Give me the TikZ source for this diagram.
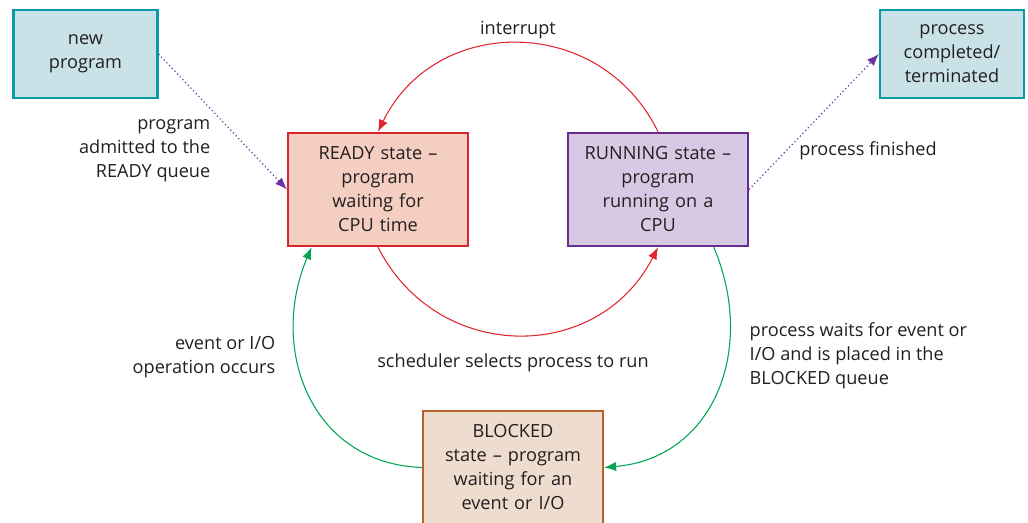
\documentclass[tikz,border=0pt]{standalone}
\usepackage{fontspec}
\setmainfont{Open Sans}
\usetikzlibrary{arrows.meta,positioning}

\definecolor{boxteal}{HTML}{0A9AAA}
\definecolor{fillteal}{HTML}{C9E2E7}
\definecolor{readyred}{HTML}{D9232D}
\definecolor{readyfill}{HTML}{F4CEC0}
\definecolor{runpurple}{HTML}{6B2C91}
\definecolor{runfill}{HTML}{D7C9E3}
\definecolor{blockbrown}{HTML}{B7612C}
\definecolor{blockfill}{HTML}{EEDCCE}
\definecolor{arcred}{HTML}{E0262F}
\definecolor{arcgreen}{HTML}{00A651}
\definecolor{dotpurple}{HTML}{7030A0}
\definecolor{txt}{HTML}{231F20}

\begin{document}
\begin{tikzpicture}[x=0.75pt,y=-0.75pt,
  every node/.style={font=\fontsize{13.6}{18}\selectfont,text=txt},
  state/.style={draw,line width=1.6pt,minimum width=135pt,minimum height=85pt,
    text width=128pt,align=center,inner sep=0pt},
  endbox/.style={draw=boxteal,fill=fillteal,line width=1.6pt,minimum width=108pt,
    minimum height=66pt,text width=104pt,align=center,inner sep=0pt},
  redarc/.style={draw=arcred,line width=0.8pt,-{Latex[length=9pt,width=7pt]}},
  greenarc/.style={draw=arcgreen,line width=0.8pt,-{Latex[length=9pt,width=7pt]}},
  dotarrow/.style={draw=dotpurple,line width=0.9pt,dotted,-{Latex[length=9pt,width=7pt]}}]
\useasboundingbox (0,0) rectangle (1028,523);

% boxes
\node[endbox] (new) at (85.5,54) {new\\program};
\node[endbox] (done) at (952,54) {process\\completed/\\terminated};
\node[state,draw=readyred,fill=readyfill] (ready) at (378,189.5)
  {READY state --\\program\\waiting for\\CPU time};
\node[state,draw=runpurple,fill=runfill] (running) at (658,189.5)
  {RUNNING state --\\program\\running on a\\CPU};
\node[state,draw=blockbrown,fill=blockfill] (blocked) at (513,467.5)
  {BLOCKED\\state -- program\\waiting for an\\event or I/O};

% connectors
\draw[dotarrow] (new.east) -- (ready.west);
\draw[dotarrow] (running.east) -- (done.west);
\draw[redarc] (running.north) to[out=116,in=64,looseness=1.2] (ready.north);
\draw[redarc] (ready.south) to[out=-63,in=-117,looseness=1.2] (running.south);
\draw[greenarc] (blocked.west) to[out=178,in=-113,looseness=1.15] (ready.221);
\draw[greenarc] (running.-46) to[out=-67,in=5,looseness=1.15] (blocked.east);

% labels
\node (lint) at (518,30) {interrupt};
\node[align=right,anchor=east] (ladmit) at (215,151) {program\\admitted to the\\READY queue};
\node (lfin) at (868,151) {process finished};
\node[align=right,anchor=east] (levent) at (280,357) {event or I/O\\operation occurs};
\node (lsched) at (513,363) {scheduler selects process to run};
\node[align=left,anchor=west] (lwait) at (745,356)
  {process waits for event or\\I/O and is placed in the\\BLOCKED queue};
\end{tikzpicture}
\end{document}
